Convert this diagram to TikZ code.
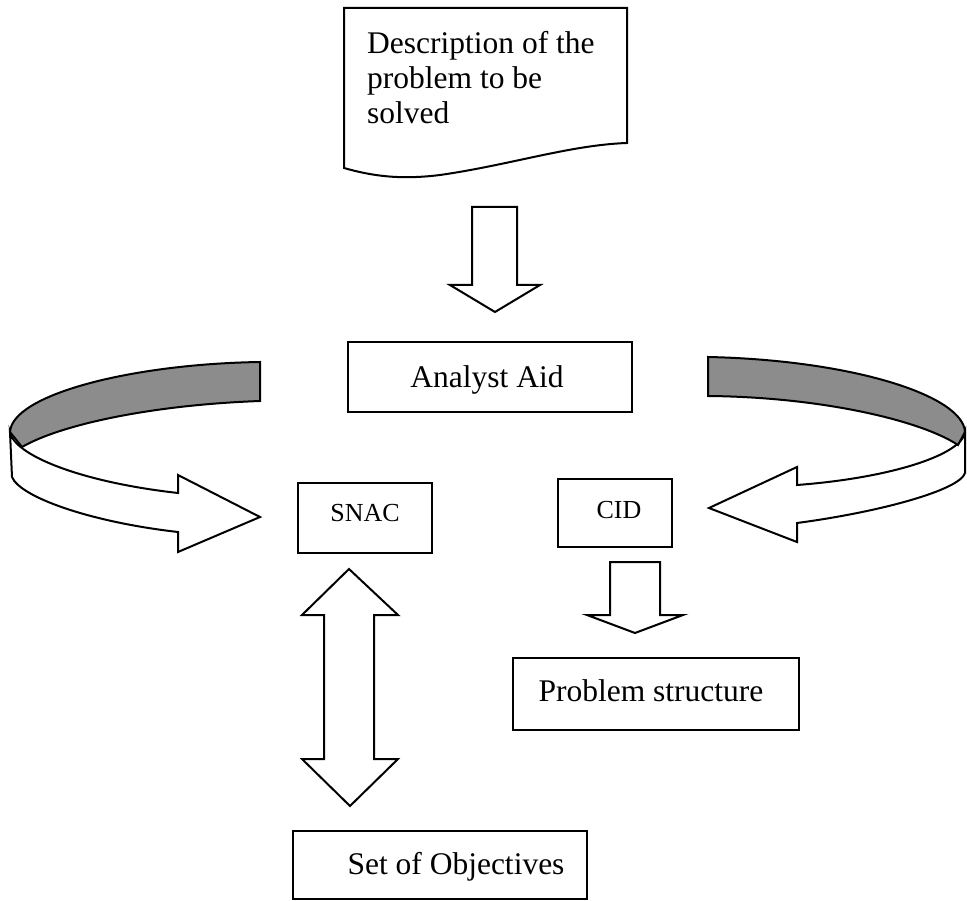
\documentclass[tikz,border=0pt]{standalone}
\usepackage{fontspec}
\setmainfont{Liberation Serif}
\begin{document}
\begin{tikzpicture}[x=1pt,y=-1pt,
  outline/.style={draw=black,line width=2pt,line join=miter},
  box/.style={outline,fill=white,inner sep=0pt},
  big/.style={font=\fontsize{31.5}{35}\selectfont,inner sep=0pt},
  small/.style={font=\fontsize{26}{30}\selectfont,inner sep=0pt},
  blockarrow/.style={outline,fill=white},
  band/.style={outline,fill=black!45},
]
\useasboundingbox (0,0) rectangle (967,901);

% problem description (document shape)
\draw[outline,fill=white] (344,8) -- (627,8) -- (627,143)
  .. controls (570,145) and (510,165) .. (440,175)
  .. controls (400,180) and (372,176) .. (344,168) -- cycle;
\node[big,anchor=north west,align=left] (desc) at (367,31)
  {Description of the\\problem to be\\solved};

% arrow into the analyst aid
\draw[blockarrow] (472,207) -- (517,207) -- (517,285) -- (540,285) -- (495,312)
  -- (450,285) -- (472,285) -- cycle;

% boxes
\node[box,minimum width=284pt,minimum height=70pt] (aid) at (490,377) {};
\node[big,anchor=base] (aidtext) at (487,388) {Analyst Aid};

\node[box,minimum width=134pt,minimum height=70pt] (snac) at (365,518) {};
\node[small,anchor=base] (snactext) at (365,521) {SNAC};

\node[box,minimum width=114pt,minimum height=68pt] (cid) at (615,513) {};
\node[small,anchor=base] (cidtext) at (619,518) {CID};

\node[box,minimum width=286pt,minimum height=72pt] (structure) at (656,694) {};
\node[big,anchor=base] (structuretext) at (651,701) {Problem structure};

\node[box,minimum width=294pt,minimum height=68pt] (objectives) at (440,865) {};
\node[big,anchor=base] (objectivestext) at (456,874) {Set of Objectives};

% arrow from CID to the problem structure
\draw[blockarrow] (610,562) -- (660,562) -- (660,615) -- (683,615) -- (635,633)
  -- (587,615) -- (610,615) -- cycle;

% two-way arrow between SNAC and the objectives
\draw[blockarrow] (349,569) -- (398,615) -- (374,615) -- (374,759) -- (398,759)
  -- (350,806) -- (302,759) -- (324,759) -- (324,615) -- (302,615) -- cycle;

% left curved ribbon arrow into SNAC
\draw[blockarrow] (10,432) .. controls (14,455) and (80,482) .. (178,493)
  -- (178,475) -- (260,517) -- (178,552) -- (178,532)
  .. controls (90,522) and (20,497) .. (12,477) -- cycle;
\draw[band] (260,362) .. controls (130,364) and (12,395) .. (10,432)
  -- (22,447) .. controls (60,425) and (150,405) .. (260,401) -- cycle;

% right curved ribbon arrow into CID
\draw[blockarrow] (965,432) .. controls (962,455) and (890,478) .. (797,485)
  -- (797,467) -- (709,508) -- (797,542) -- (797,523)
  .. controls (880,512) and (960,490) .. (965,473) -- cycle;
\draw[band] (708,357) .. controls (850,360) and (963,395) .. (965,432)
  -- (958,445) .. controls (920,420) and (820,397) .. (708,396) -- cycle;
\end{tikzpicture}
\end{document}
